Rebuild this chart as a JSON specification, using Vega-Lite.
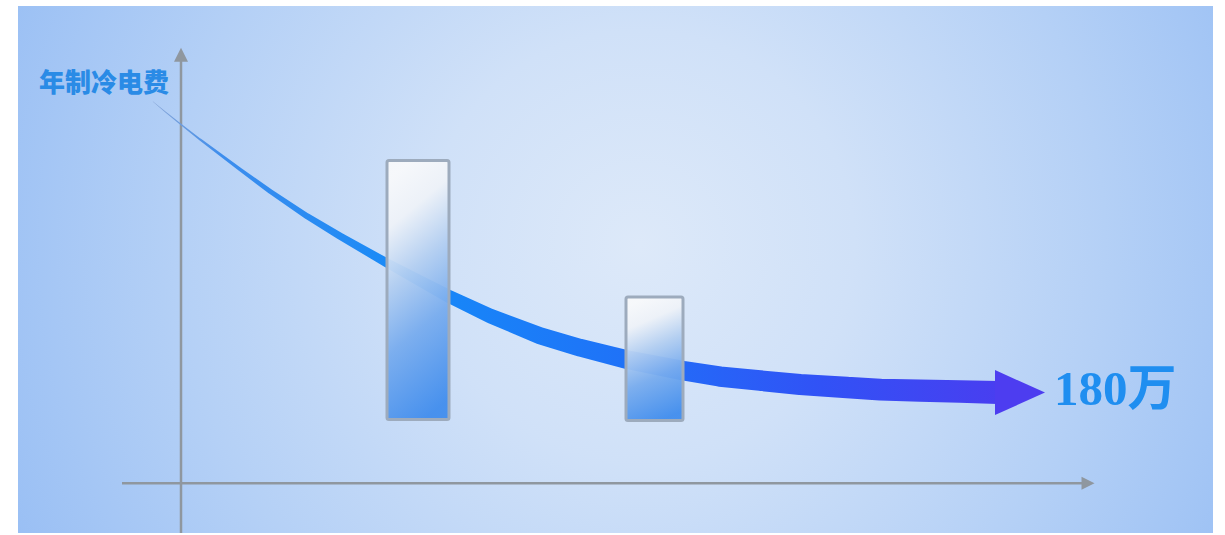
{
  "$schema": "https://vega.github.io/schema/vega-lite/v6.json",
  "width": 1225,
  "height": 535,
  "autosize": {"type": "fit", "contains": "padding"},
  "padding": 0,
  "background": "#ffffff",
  "config": {"view": {"stroke": null}},
  "datasets": {
    "panel": [{"x": 18, "x2": 1213, "y": 0, "y2": 529}],
    "curve": [
      {"year": 153, "cost": 433},
      {"year": 165, "cost": 423},
      {"year": 181, "cost": 410},
      {"year": 200, "cost": 395},
      {"year": 220, "cost": 380},
      {"year": 240, "cost": 365},
      {"year": 270, "cost": 343},
      {"year": 307, "cost": 318},
      {"year": 340, "cost": 298},
      {"year": 387, "cost": 271},
      {"year": 420, "cost": 253},
      {"year": 450, "cost": 237},
      {"year": 490, "cost": 218},
      {"year": 540, "cost": 198},
      {"year": 580, "cost": 186},
      {"year": 627, "cost": 174},
      {"year": 683, "cost": 163},
      {"year": 720, "cost": 157},
      {"year": 760, "cost": 153},
      {"year": 800, "cost": 149},
      {"year": 847, "cost": 146},
      {"year": 880, "cost": 144},
      {"year": 920, "cost": 143},
      {"year": 960, "cost": 142},
      {"year": 998, "cost": 141}
    ],
    "bars": [
      {"x": 387, "x2": 449, "low": 114, "high": 374},
      {"x": 626, "x2": 683, "low": 113, "high": 237}
    ],
    "yaxis": [{"x": 181, "y": 0, "y2": 481}],
    "xaxis": [{"x": 122, "x2": 1084, "y": 50}],
    "yhead": [{"x": 181, "y": 480}],
    "xhead": [{"x": 1088, "y": 50}],
    "curvehead": [{"x": 1020, "y": 141}],
    "ylabel": [{"x": 104, "y": 451, "label": "年制冷电费"}],
    "endlabel": [{"x": 1054, "y": 144, "label": "180万"}]
  },
  "layer": [
    {
      "data": {"name": "panel"},
      "mark": {
        "type": "rect",
        "fill": {
          "gradient": "radial",
          "x1": 0.52, "y1": 0.48, "r1": 0,
          "x2": 0.52, "y2": 0.48, "r2": 0.6,
          "stops": [
            {"offset": 0, "color": "#dde9f9"},
            {"offset": 0.3, "color": "#d0e1f8"},
            {"offset": 0.65, "color": "#b4d0f6"},
            {"offset": 1, "color": "#96bdf4"}
          ]
        }
      },
      "encoding": {
        "x": {"field": "x", "type": "quantitative", "scale": {"domain": [0, 1225], "nice": false, "zero": false}, "axis": null},
        "x2": {"field": "x2"},
        "y": {"field": "y", "type": "quantitative", "scale": {"domain": [0, 535], "nice": false, "zero": false}, "axis": null},
        "y2": {"field": "y2"}
      }
    },
    {
      "data": {"name": "yaxis"},
      "mark": {"type": "rule", "stroke": "#8f979f", "strokeWidth": 2.5},
      "encoding": {
        "x": {"field": "x", "type": "quantitative"},
        "y": {"field": "y", "type": "quantitative"},
        "y2": {"field": "y2"}
      }
    },
    {
      "data": {"name": "xaxis"},
      "mark": {"type": "rule", "stroke": "#8f979f", "strokeWidth": 2.5},
      "encoding": {
        "x": {"field": "x", "type": "quantitative"},
        "x2": {"field": "x2"},
        "y": {"field": "y", "type": "quantitative"}
      }
    },
    {
      "data": {"name": "yhead"},
      "mark": {"type": "point", "shape": "M -1 1 L 0 -1 L 1 1 Z", "size": 196, "filled": true, "fill": "#8f979f", "opacity": 1, "strokeWidth": 0},
      "encoding": {
        "x": {"field": "x", "type": "quantitative"},
        "y": {"field": "y", "type": "quantitative"}
      }
    },
    {
      "data": {"name": "xhead"},
      "mark": {"type": "point", "shape": "M -1 -1 L 1 0 L -1 1 Z", "size": 169, "filled": true, "fill": "#8f979f", "opacity": 1, "strokeWidth": 0},
      "encoding": {
        "x": {"field": "x", "type": "quantitative"},
        "y": {"field": "y", "type": "quantitative"}
      }
    },
    {
      "data": {"name": "curve"},
      "mark": {
        "type": "trail",
        "filled": true,
        "fill": {
          "gradient": "linear",
          "x1": 0, "y1": 0, "x2": 1, "y2": 0,
          "stops": [
            {"offset": 0, "color": "#8aa6d6"},
            {"offset": 0.08, "color": "#3d8ded"},
            {"offset": 0.3, "color": "#168af8"},
            {"offset": 0.55, "color": "#1f72f8"},
            {"offset": 0.78, "color": "#3152f6"},
            {"offset": 1, "color": "#4a3df0"}
          ]
        }
      },
      "encoding": {
        "x": {"field": "year", "type": "quantitative"},
        "y": {"field": "cost", "type": "quantitative"},
        "order": {"field": "year", "type": "quantitative"},
        "size": {"field": "year", "type": "quantitative", "scale": {"type": "linear", "domain": [150, 250, 387, 450, 540, 700, 1000], "range": [0.3, 4, 9, 13, 17, 20, 23]}, "legend": null}
      }
    },
    {
      "data": {"name": "curvehead"},
      "mark": {"type": "point", "shape": "M -1 -0.9 L 1 0 L -1 0.9 Z", "size": 2500, "filled": true, "fill": "#4d3df0", "opacity": 1, "strokeWidth": 0},
      "encoding": {
        "x": {"field": "x", "type": "quantitative"},
        "y": {"field": "y", "type": "quantitative"}
      }
    },
    {
      "data": {"name": "bars"},
      "mark": {
        "type": "bar",
        "cornerRadius": 2,
        "stroke": "#9dabbd",
        "strokeWidth": 3,
        "fillOpacity": 0.95,
        "fill": {
          "gradient": "linear",
          "x1": 0.4, "y1": 0, "x2": 0.6, "y2": 1,
          "stops": [
            {"offset": 0, "color": "#f8f9fb"},
            {"offset": 0.18, "color": "#eef2f8"},
            {"offset": 0.4, "color": "#b4cff1"},
            {"offset": 0.65, "color": "#78acee"},
            {"offset": 1, "color": "#418ded"}
          ]
        }
      },
      "encoding": {
        "x": {"field": "x", "type": "quantitative"},
        "x2": {"field": "x2"},
        "y": {"field": "low", "type": "quantitative"},
        "y2": {"field": "high"}
      }
    },
    {
      "data": {"name": "ylabel"},
      "mark": {"type": "text", "font": "Noto Sans CJK SC", "fontWeight": 900, "fontSize": 26, "fill": "#2a8be6", "align": "center", "baseline": "middle"},
      "encoding": {
        "x": {"field": "x", "type": "quantitative"},
        "y": {"field": "y", "type": "quantitative"},
        "text": {"field": "label"}
      }
    },
    {
      "data": {"name": "endlabel"},
      "mark": {"type": "text", "font": "Liberation Serif, Noto Sans CJK SC", "fontWeight": "bold", "fontSize": 49, "fill": "#1f8ef0", "align": "left", "baseline": "middle"},
      "encoding": {
        "x": {"field": "x", "type": "quantitative"},
        "y": {"field": "y", "type": "quantitative"},
        "text": {"field": "label"}
      }
    }
  ]
}
